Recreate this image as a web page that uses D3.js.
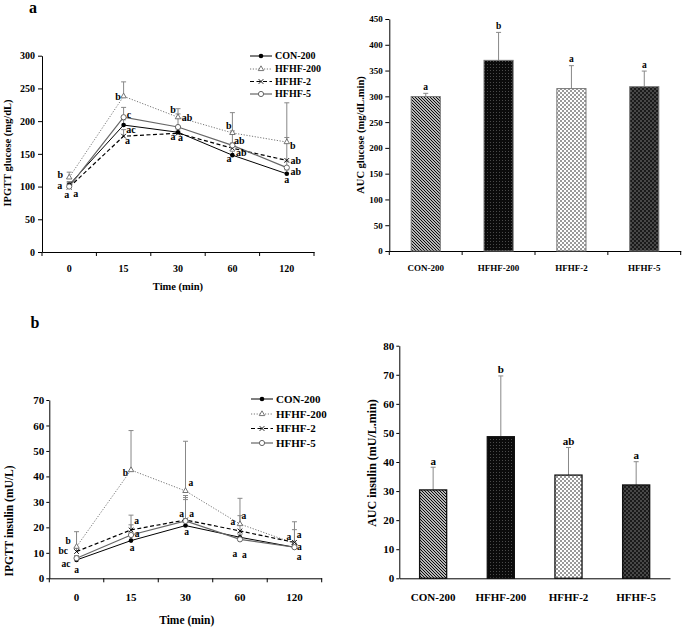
<!DOCTYPE html>
<html><head><meta charset="utf-8">
<script src="https://cdn.jsdelivr.net/npm/d3@7"></script>
<style>
body{margin:0;background:#fff}
svg{display:block}
text{font-family:"Liberation Serif","Times New Roman",serif;font-weight:bold;fill:#000}
</style>
</head><body><svg id="c" width="685" height="631"></svg>
<script>
// ---------- DATA ----------
const times = ["0","15","30","60","120"];
const groups = ["CON-200","HFHF-200","HFHF-2","HFHF-5"];

// IPGTT glucose (mg/dL)
const gluCON      = [102.7,194,183,148,119.5];
const gluHFHF200  = [114,238,206,182,168];
const gluHFHF2    = [99,177,181.5,158.6,140];
const gluHFHF5    = [100,206,191,163,129];
const gluSdCON     = [5,8,5,6,6];
const gluSdHFHF200 = [8,22,13,31,60];
const gluSdHFHF2   = [5,10,10,8,35];
const gluSdHFHF5   = [6,15,20,22,10];
const gluLetCON     = ["a","ac","a","a","a"];
const gluLetHFHF200 = ["b","b","b","b","b"];
const gluLetHFHF2   = ["a","a","a","ab","ab"];
const gluLetHFHF5   = ["a","c","ab","ab","ab"];
const gluTicks = [0,50,100,150,200,250,300];

// IPGTT insulin (mU/L)
const insCON      = [7.2,14.8,20.7,16.1,12.2];
const insHFHF200  = [12.4,42.5,34.3,21.3,13.7];
const insHFHF2    = [10.5,19,22.9,18.6,14.1];
const insHFHF5    = [7.9,17,22.5,15.3,12.2];
const insSdCON     = [1,2,11,2,1];
const insSdHFHF200 = [5.9,15.5,19.5,10.1,8.5];
const insSdHFHF2   = [1.5,5.8,8,6,5];
const insSdHFHF5   = [1,4,10,2,1.5];
const insLetCON     = ["a","a","a","a","a"];
const insLetHFHF200 = ["b","b","a","a","a"];
const insLetHFHF2   = ["bc","a","a","a","a"];
const insLetHFHF5   = ["ac","a","a","a","a"];
const insTicks = [0,10,20,30,40,50,60,70];

// AUC
const aucGlu        = [299.5,369.8,315,318.7];
const aucGluSd      = [6.3,54.2,44.5,30.3];
const aucGluLetters = ["a","b","a","a"];
const aucGluTicks   = [0,50,100,150,200,250,300,350,400,450];
const aucIns        = [30.4,48.7,35.5,32.1];
const aucInsSd      = [7.8,20.9,9.5,8];
const aucInsLetters = ["a","b","ab","a"];
const aucInsTicks   = [0,10,20,30,40,50,60,70,80];

// ---------- DRAWING ----------
const svg = d3.select("#c");
const defs = svg.append("defs");
function pat(id, w, build){
  const p = defs.append("pattern").attr("id",id).attr("patternUnits","userSpaceOnUse").attr("width",w).attr("height",w);
  build(p);
}
pat("pStripe",3,p=>{
  p.append("rect").attr("width",3).attr("height",3).attr("fill","#fff");
  p.append("path").attr("d","M-1,-1L4,4M-1,2L1,4M2,-1L4,1").attr("stroke","#000").attr("stroke-width",1.1);
});
pat("pDots",3,p=>{
  p.append("rect").attr("width",3).attr("height",3).attr("fill","#0b0b0b");
  p.append("rect").attr("x",1).attr("y",1).attr("width",1).attr("height",1).attr("fill","#4a4a4a");
});
pat("pLight",4,p=>{
  p.append("rect").attr("width",4).attr("height",4).attr("fill","#fff");
  p.append("rect").attr("width",2).attr("height",2).attr("fill","#9a9a9a");
  p.append("rect").attr("x",2).attr("y",2).attr("width",2).attr("height",2).attr("fill","#9a9a9a");
});
pat("pDark",4,p=>{
  p.append("rect").attr("width",4).attr("height",4).attr("fill","#1a1a1a");
  p.append("rect").attr("width",2).attr("height",2).attr("fill","#484848");
  p.append("rect").attr("x",2).attr("y",2).attr("width",2).attr("height",2).attr("fill","#484848");
});
const barFills = ["url(#pStripe)","url(#pDots)","url(#pLight)","url(#pDark)"];

const lineStyles = [
  {stroke:"#000", w:1,   dash:null,      marker:"dot"},
  {stroke:"#777", w:1,   dash:"1.2,1.6", marker:"tri"},
  {stroke:"#000", w:1.2, dash:"4,2.5",   marker:"x"},
  {stroke:"#666", w:1.2, dash:null,      marker:"circ"}
];

function styleAxis(sel, fs){
  sel.selectAll("path.domain").attr("stroke","#000").attr("stroke-width",1);
  sel.selectAll(".tick line").attr("stroke","#000");
  sel.selectAll(".tick text").attr("font-size",fs).attr("font-family",'"Liberation Serif",serif').attr("font-weight","bold").attr("fill","#000");
}

function drawMarker(g, type, x, y){
  if(type==="dot"){
    g.append("circle").attr("cx",x).attr("cy",y).attr("r",2.3).attr("fill","#000");
  } else if(type==="tri"){
    g.append("path").attr("transform",`translate(${x},${y})`).attr("d",d3.symbol(d3.symbolTriangle,13)())
      .attr("fill","#fff").attr("stroke","#666").attr("stroke-width",0.9);
  } else if(type==="x"){
    g.append("path").attr("transform",`translate(${x},${y})`).attr("d",d3.symbol(d3.symbolTimes,16)())
      .attr("fill","none").attr("stroke","#000").attr("stroke-width",0.9);
  } else {
    g.append("circle").attr("cx",x).attr("cy",y).attr("r",2.6).attr("fill","#fff").attr("stroke","#666").attr("stroke-width",1);
  }
}

function lineChart(cfg){
  const g = svg.append("g");
  const x = d3.scaleBand().domain(times).range([cfg.x0,cfg.x1]).padding(0);
  const y = d3.scaleLinear().domain([0,cfg.ymax]).range([cfg.y0,cfg.y1]);
  const cx = t => x(t)+x.bandwidth()/2;
  g.append("g").attr("transform",`translate(${cfg.x0},0)`)
    .call(d3.axisLeft(y).tickValues(cfg.yticks).tickSize(cfg.tick).tickSizeOuter(0).tickPadding(cfg.pad))
    .call(styleAxis,cfg.fs);
  g.append("g").attr("transform",`translate(0,${cfg.y0})`)
    .call(d3.axisBottom(x).tickSize(0).tickPadding(cfg.xpad))
    .call(styleAxis,cfg.fs);
  const bounds = times.map(t=>x(t)).concat([x.range()[1]]);
  g.selectAll(null).data(bounds).join("line")
    .attr("x1",d=>d).attr("x2",d=>d).attr("y1",cfg.y0).attr("y2",cfg.y0+4).attr("stroke","#000");

  // error bars
  cfg.series.forEach((s)=>{
    s.vals.forEach((v,i)=>{
      const px = cx(times[i]), top = y(v+s.sd[i]);
      g.append("line").attr("x1",px).attr("x2",px).attr("y1",y(v)).attr("y2",top).attr("stroke","#888").attr("stroke-width",1);
      g.append("line").attr("x1",px-2.5).attr("x2",px+2.5).attr("y1",top).attr("y2",top).attr("stroke","#888").attr("stroke-width",1);
    });
  });
  // lines
  cfg.series.forEach((s,k)=>{
    const st = lineStyles[k];
    g.append("path").datum(s.vals)
      .attr("d",d3.line().x((d,i)=>cx(times[i])).y(d=>y(d)))
      .attr("fill","none").attr("stroke",st.stroke).attr("stroke-width",st.w)
      .attr("stroke-dasharray",st.dash);
  });
  // markers
  cfg.series.forEach((s,k)=>{
    s.vals.forEach((v,i)=>drawMarker(g,lineStyles[k].marker,cx(times[i]),y(v)));
  });
  // letters
  cfg.series.forEach((s,k)=>{
    s.letters.forEach((L,i)=>{
      const o = cfg.offsets[k][i];
      g.append("text").attr("x",cx(times[i])+o[0]).attr("y",y(s.vals[i])+o[1]+cfg.lfs*0.3)
        .attr("text-anchor","middle").attr("font-size",cfg.lfs).text(L);
    });
  });
  // legend
  groups.forEach((name,k)=>{
    const ly = cfg.legY[k], st = lineStyles[k];
    g.append("line").attr("x1",cfg.legX).attr("x2",cfg.legX+22).attr("y1",ly).attr("y2",ly)
      .attr("stroke",st.stroke).attr("stroke-width",st.w).attr("stroke-dasharray",st.dash);
    drawMarker(g,st.marker,cfg.legX+11,ly);
    g.append("text").attr("x",cfg.legX+25).attr("y",ly+cfg.legFs*0.33).attr("font-size",cfg.legFs).text(name);
  });
  // titles
  g.append("text").attr("x",cfg.xtX).attr("y",cfg.xtY).attr("text-anchor","middle").attr("font-size",cfg.tfs).text("Time (min)");
  g.append("text").attr("transform",`translate(${cfg.ytX},${cfg.ytY}) rotate(-90)`).attr("text-anchor","middle")
    .attr("dominant-baseline","central").attr("font-size",cfg.tfs).text(cfg.ytitle);
}

function barChart(cfg){
  const g = svg.append("g");
  const x = d3.scaleBand().domain(groups).range([cfg.x0,cfg.x1]).paddingInner(0.6).paddingOuter(0.3);
  const y = d3.scaleLinear().domain([0,cfg.ymax]).range([cfg.y0,cfg.y1]);
  g.append("g").attr("transform",`translate(${cfg.x0},0)`)
    .call(d3.axisLeft(y).tickValues(cfg.yticks).tickSize(cfg.tick).tickSizeOuter(0).tickPadding(cfg.pad))
    .call(styleAxis,cfg.fs);
  g.append("g").attr("transform",`translate(0,${cfg.y0})`)
    .call(d3.axisBottom(x).tickSize(0).tickPadding(cfg.xpad))
    .call(styleAxis,cfg.fs);
  if(cfg.boundTicks){
    const bounds = d3.range(groups.length+1).map(i=>cfg.x0+i*(cfg.x1-cfg.x0)/groups.length);
    g.selectAll(null).data(bounds).join("line")
      .attr("x1",d=>d).attr("x2",d=>d).attr("y1",cfg.y0).attr("y2",cfg.y0+4).attr("stroke","#000");
  }
  groups.forEach((name,i)=>{
    const v = cfg.vals[i], bx = x(name), bw = x.bandwidth(), mid = bx+bw/2, top = y(v+cfg.sd[i]);
    g.append("line").attr("x1",mid).attr("x2",mid).attr("y1",y(v)).attr("y2",top).attr("stroke","#888").attr("stroke-width",1);
    g.append("line").attr("x1",mid-2.5).attr("x2",mid+2.5).attr("y1",top).attr("y2",top).attr("stroke","#888").attr("stroke-width",1);
    g.append("rect").attr("x",bx).attr("y",y(v)).attr("width",bw).attr("height",cfg.y0-y(v))
      .attr("fill",barFills[i]).attr("stroke",cfg.barStroke).attr("stroke-width",cfg.barSW);
    g.append("text").attr("x",mid).attr("y",top-cfg.letGap).attr("text-anchor","middle").attr("font-size",cfg.lfs).text(cfg.letters[i]);
  });
  g.append("text").attr("transform",`translate(${cfg.ytX},${cfg.ytY}) rotate(-90)`).attr("text-anchor","middle")
    .attr("dominant-baseline","central").attr("font-size",cfg.tfs).text(cfg.ytitle);
}

// panel labels
svg.append("text").attr("x",33).attr("y",13).attr("text-anchor","middle").attr("font-size",16).text("a");
svg.append("text").attr("x",35).attr("y",328).attr("text-anchor","middle").attr("font-size",16).text("b");

// label placement (layout only): [dx,dy] per series per time point
const gluOffsets = [
  [[-9.5,1.5],[7.5,4.7],[-5,5],[-3.5,4],[0,6]],
  [[-9,-2.5],[-5.5,0.5],[-5,-7],[-3.5,-7],[6,4]],
  [[6.5,7],[4,5],[2.5,4.5],[9,4.5],[9,0.5]],
  [[-2.5,8],[5.5,-2],[9,-9],[7,-4.5],[9,4.5]]
];
const insOffsets = [
  [[0,10.5],[1,7.7],[1,6.7],[-5,17],[4.6,10]],
  [[-8.3,-5.5],[-5.5,3.5],[5.3,-7.6],[4,-8.3],[-5.5,-6.5]],
  [[-13.3,-0.5],[5.5,-9],[-4,-6],[-7,-8.6],[4.6,-7]],
  [[-10.5,5.5],[6,-1],[6,-7],[4.5,15.7],[5,0]]
];

lineChart({
  x0:42, x1:314, y0:252, y1:55.7, ymax:300, yticks:gluTicks, tick:4, pad:3, fs:10, xpad:12.4,
  series:[
    {vals:gluCON, sd:gluSdCON, letters:gluLetCON},
    {vals:gluHFHF200, sd:gluSdHFHF200, letters:gluLetHFHF200},
    {vals:gluHFHF2, sd:gluSdHFHF2, letters:gluLetHFHF2},
    {vals:gluHFHF5, sd:gluSdHFHF5, letters:gluLetHFHF5}
  ],
  offsets:gluOffsets, lfs:10,
  legX:250, legY:[56,69,81.5,94], legFs:10,
  xtX:178, xtY:289.5, ytX:7, ytY:153, tfs:10.5, ytitle:"IPGTT glucose (mg/dL)"
});

lineChart({
  x0:49.3, x1:321.7, y0:578.3, y1:400, ymax:70, yticks:insTicks, tick:3, pad:2, fs:11, xpad:14.5,
  series:[
    {vals:insCON, sd:insSdCON, letters:insLetCON},
    {vals:insHFHF200, sd:insSdHFHF200, letters:insLetHFHF200},
    {vals:insHFHF2, sd:insSdHFHF2, letters:insLetHFHF2},
    {vals:insHFHF5, sd:insSdHFHF5, letters:insLetHFHF5}
  ],
  offsets:insOffsets, lfs:9.5,
  legX:251, legY:[399,414,428.5,443], legFs:11,
  xtX:186.7, xtY:624, ytX:9, ytY:521, tfs:11.5, ytitle:"IPGTT insulin (mU/L)"
});

barChart({
  x0:389.3, x1:680.7, y0:251, y1:19, ymax:450, yticks:aucGluTicks, tick:4, pad:2.5, fs:9, xpad:13.8,
  vals:aucGlu, sd:aucGluSd, letters:aucGluLetters, lfs:9.5, letGap:3.5,
  barStroke:"#777", barSW:1, boundTicks:true,
  ytX:360, ytY:135, tfs:10.5, ytitle:"AUC glucose (mg/dL.min)"
});

barChart({
  x0:399.3, x1:670, y0:578.3, y1:345.7, ymax:80, yticks:aucInsTicks, tick:3, pad:2, fs:11, xpad:14.5,
  vals:aucIns, sd:aucInsSd, letters:aucInsLetters, lfs:11, letGap:2.5,
  barStroke:"#111", barSW:1.3, boundTicks:false,
  ytX:371.7, ytY:463, tfs:12, ytitle:"AUC insulin (mU/L.min)"
});
</script>
</body></html>
